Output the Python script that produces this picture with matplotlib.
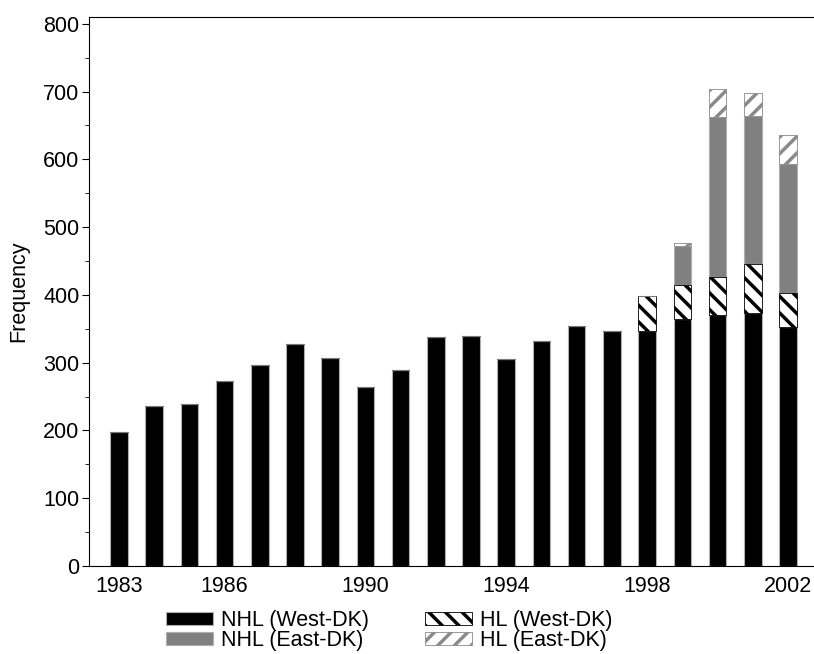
import matplotlib
matplotlib.use("Agg")
import matplotlib.pyplot as plt
from matplotlib.ticker import MultipleLocator
import numpy as np

plt.rcParams['font.family'] = ['Liberation Sans', 'DejaVu Sans']
plt.rcParams['hatch.linewidth'] = 2.5

years = np.arange(1983, 2003)
nhl_west = [197, 236, 239, 273, 297, 328, 307, 264, 289, 338,
            340, 305, 332, 354, 347, 347, 364, 370, 373, 353]
hl_west = [0, 0, 0, 0, 0, 0, 0, 0, 0, 0,
           0, 0, 0, 0, 0, 52, 51, 56, 73, 50]
nhl_east = [0, 0, 0, 0, 0, 0, 0, 0, 0, 0,
            0, 0, 0, 0, 0, 0, 57, 237, 218, 190]
hl_east = [0, 0, 0, 0, 0, 0, 0, 0, 0, 0,
           0, 0, 0, 0, 0, 0, 4, 41, 34, 43]
xtick_years = [1983, 1986, 1990, 1994, 1998, 2002]

fig = plt.figure(figsize=(8.14, 6.54), dpi=100)
ax = fig.add_axes([89 / 814, 88 / 654, 725 / 814, 549 / 654])

w = 0.5
edge = '#b0b0b0'
fs = 15.5
b1 = np.array(nhl_west)
b2 = b1 + np.array(hl_west)
b3 = b2 + np.array(nhl_east)

# stacked bars: solid first, hatched segments on top
ax.bar(years, nhl_west, w, color='black', edgecolor=edge, linewidth=0.8,
       label='NHL (West-DK)')
ax.bar(years, nhl_east, w, bottom=b2, color='#808080', edgecolor=edge,
       linewidth=0.8, label='NHL (East-DK)')
ax.bar(years, hl_west, w, bottom=b1, color='white', edgecolor='black',
       hatch='\\\\', linewidth=0.6, label='HL (West-DK)')
ax.bar(years, hl_east, w, bottom=b3, color='white', edgecolor='#8a8a8a',
       hatch='//', linewidth=0.6, label='HL (East-DK)')

ax.set_xlim(1982.15, 2002.74)
ax.set_ylim(0, 810)
ax.yaxis.set_major_locator(MultipleLocator(100))
ax.yaxis.set_minor_locator(MultipleLocator(50))
ax.set_xticks(xtick_years)
ax.tick_params(axis='x', length=0, labelsize=fs, pad=7)
ax.tick_params(axis='y', which='major', length=5, labelsize=fs, pad=2)
ax.tick_params(axis='y', which='minor', length=3)
ax.spines['right'].set_visible(False)
ax.set_ylabel('Frequency', fontsize=fs, labelpad=10)

handles, labels = ax.get_legend_handles_labels()
fig.legend(handles, labels,
           loc='upper left', bbox_to_anchor=(155 / 814, 1 - 599 / 654),
           ncol=2, frameon=False, fontsize=fs, handlelength=2.2,
           handleheight=0.55, handletextpad=0.35, labelspacing=-0.05,
           columnspacing=2.6, borderpad=0)

fig.savefig('out.png', dpi=100)
